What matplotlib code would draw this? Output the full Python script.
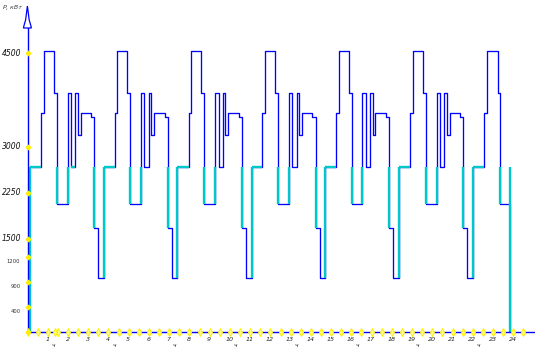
import numpy as np
import matplotlib
matplotlib.use("Agg")
import matplotlib.pyplot as plt
from matplotlib.patches import Polygon
from matplotlib.transforms import offset_copy

# load curve P(t), step values (hours, kW)
blue_t = [0.13, 0.68, 0.81, 1.30, 1.44, 1.98, 2.16, 2.37, 2.49, 2.62, 3.15, 3.31, 3.50, 3.79,
          4.30, 4.43, 4.92, 5.06, 5.60, 5.78, 5.99, 6.11, 6.24, 6.77, 6.93, 7.12, 7.41,
          7.96, 8.09, 8.58, 8.72, 9.26, 9.44, 9.65, 9.77, 9.90, 10.43, 10.59, 10.78, 11.07,
          11.61, 11.74, 12.23, 12.37, 12.91, 13.09, 13.30, 13.42, 13.55, 14.08, 14.24, 14.43, 14.72,
          15.25, 15.38, 15.87, 16.01, 16.55, 16.73, 16.94, 17.06, 17.19, 17.72, 17.88, 18.07, 18.36,
          18.91, 19.04, 19.53, 19.67, 20.21, 20.39, 20.60, 20.72, 20.85, 21.38, 21.54, 21.73, 22.02,
          22.54, 22.68, 23.24, 23.33, 23.86]
blue_p = [2670, 3540, 4530, 3870, 2070, 3870, 2670, 3870, 3180, 3540, 3470, 1670, 950, 2670,
          3540, 4530, 3870, 2070, 3870, 2670, 3870, 3180, 3540, 3470, 1670, 950, 2670,
          3540, 4530, 3870, 2070, 3870, 2670, 3870, 3180, 3540, 3470, 1670, 950, 2670,
          3540, 4530, 3870, 2070, 3870, 2670, 3870, 3180, 3540, 3470, 1670, 950, 2670,
          3540, 4530, 3870, 2070, 3870, 2670, 3870, 3180, 3540, 3470, 1670, 950, 2670,
          3540, 4530, 3870, 2070, 3870, 2670, 3870, 3180, 3540, 3470, 1670, 950, 2670,
          3540, 4530, 3870, 2070, 0]

# cyan part: vertical jumps and base level pieces
cyan_vx = [0.13, 1.44, 1.98, 3.31, 3.79, 5.06, 5.60, 6.93, 7.41, 8.72, 9.26, 10.59, 11.07,
           12.37, 12.91, 14.24, 14.72, 16.01, 16.55, 17.88, 18.36, 19.67, 20.21, 21.54, 22.02,
           23.33, 23.86]
cyan_lo = [0, 2070, 2070, 1670, 950, 2070, 2070, 1670, 950, 2070, 2070, 1670, 950,
           2070, 2070, 1670, 950, 2070, 2070, 1670, 950, 2070, 2070, 1670, 950,
           2070, 0]
cyan_hi = 2670
cyan_h0 = [0.13, 2.16, 3.79, 7.41, 11.07, 14.72, 18.36, 22.02]
cyan_h1 = [0.68, 2.37, 4.30, 7.96, 11.61, 15.25, 18.91, 22.54]

ytick_big = [1500, 2250, 3000, 4500]
ytick_small = [400, 900, 1200]
hours = list(range(1, 25))
sub_hours = [1, 4, 7, 10, 13, 16, 19, 22]

# uneven vertical scale of the original drawing
sc_v = [0, 400, 900, 1200, 1500, 2250, 3000, 4500, 6000]
sc_h = [0, 24.4, 49.4, 74.4, 93.2, 139.0, 185.0, 278.4, 371.7]
fwd = lambda v: np.interp(v, sc_v, sc_h)
inv = lambda h: np.interp(h, sc_h, sc_v)

W, H = 535, 356
fig = plt.figure(figsize=(W / 100, H / 100), dpi=100)
x0, y0, ytop = 27.5, 331.7, 5
ax = fig.add_axes([x0 / W, (H - y0) / H, (W - x0) / W, (y0 - ytop) / H])
ax.set_yscale('function', functions=(fwd, inv))
ax.set_xlim(0, (W - x0) / 20.24)
ax.set_ylim(0, float(inv(y0 - ytop)))
for s in ax.spines.values():
    s.set_visible(False)
ax.set_xticks([])
ax.set_yticks([])

blue = '#0000ff'
cyan = '#00c8c8'
ax.step(blue_t, blue_p, where='post', color=blue, lw=0.95, zorder=3)
ax.vlines(cyan_vx, cyan_lo, cyan_hi, color=cyan, lw=1.7, zorder=4)
ax.hlines([cyan_hi] * len(cyan_h0), cyan_h0, cyan_h1, color=cyan, lw=1.7, zorder=4)

# axes lines
ax.plot([0, 25.1], [0, 0], color=blue, lw=1.0, clip_on=False, zorder=5)
ax.plot([0, 0], [0, float(inv(y0 - 28))], color=blue, lw=1.0, clip_on=False, zorder=5)
arrow = [(27.4, 6), (25.6, 20), (24.4, 24), (23.4, 28), (31.4, 28), (30.4, 24), (29.2, 20)]
arrow = [(px / W, 1 - py / H) for px, py in arrow]
fig.patches.append(Polygon(arrow, closed=True, facecolor='white', edgecolor=blue,
                           lw=0.9, transform=fig.transFigure, zorder=6))

# yellow markers
xm = [i * 0.5 for i in range(50)] + [1.38]
ax.plot(xm, [0] * len(xm), ls='none', marker='d', ms=4, mfc='#ffff88', mec='#ffee00',
        mew=0.7, clip_on=False, zorder=6)
ym = [0] + ytick_small + ytick_big
ax.plot([0] * len(ym), ym, ls='none', marker='D', ms=2.3, mfc='#ffee00', mec='#ffee00',
        clip_on=False, zorder=6)

# labels
for v in ytick_big:
    ax.text(-0.3, v, str(v), ha='right', va='center', fontsize=5.5, style='italic',
            color='#111111')
for v in ytick_small:
    tr = offset_copy(ax.transData, fig=fig, x=0, y=-4.5, units='dots')
    ax.text(-0.35, v, str(v), ha='right', va='center', fontsize=3.8, color='#333333',
            transform=tr)
for hh in hours:
    tr = offset_copy(ax.transData, fig=fig, x=-0.5, y=-7.5, units='dots')
    ax.text(hh, 0, str(hh), ha='center', va='center', fontsize=4.6, style='italic',
            color='#222222', transform=tr)
for hh in sub_hours:
    tr = offset_copy(ax.transData, fig=fig, x=5.5, y=-13.5, units='dots')
    ax.text(hh, 0, 'ч', ha='center', va='center', fontsize=4.2, style='italic',
            color='#222222', transform=tr)
fig.text(3 / W, 1 - 8 / H, 'P, кВт', ha='left', va='center', fontsize=4.6,
         style='italic', color='#444444')

fig.savefig('out.png', dpi=100)
